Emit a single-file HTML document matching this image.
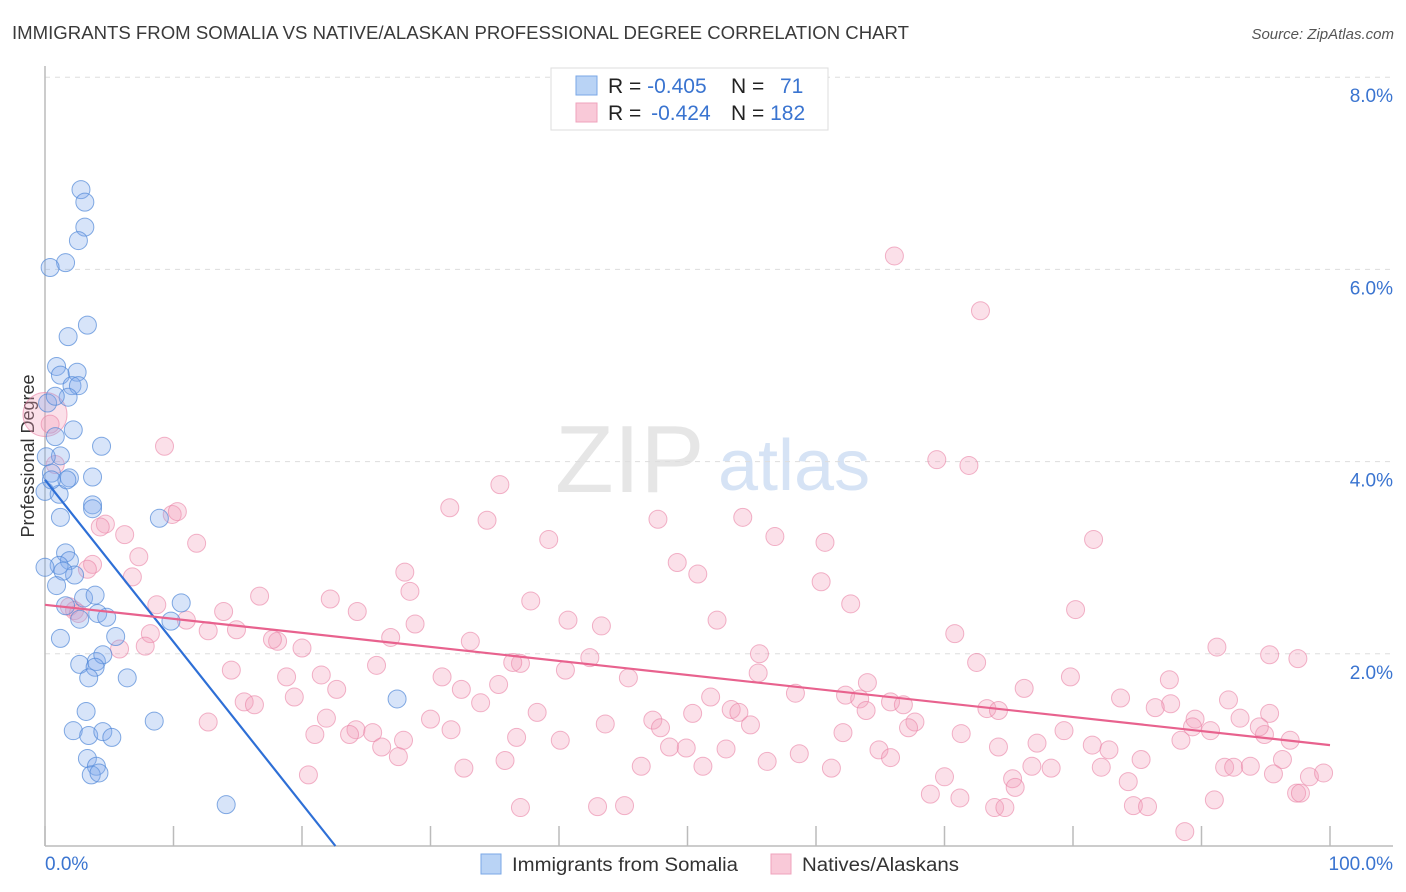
<!DOCTYPE html>
<html><head><meta charset="utf-8"><style>
body{margin:0;background:#fff;font-family:"Liberation Sans",sans-serif;}
#wrap{position:relative;width:1406px;height:892px;overflow:hidden;}
svg text{font-family:"Liberation Sans",sans-serif;}
</style></head><body>
<div id="wrap">
<svg id="chart" width="1406" height="892">
<text x="12" y="39" font-size="18" fill="#3a3a3a" textLength="897" lengthAdjust="spacingAndGlyphs">IMMIGRANTS FROM SOMALIA VS NATIVE/ALASKAN PROFESSIONAL DEGREE CORRELATION CHART</text>
<text x="1394" y="39" font-size="15" fill="#555" font-style="italic" text-anchor="end">Source: ZipAtlas.com</text>
<text x="555" y="492" font-size="96" fill="#e6e6e6" font-family="Liberation Serif">ZIP</text>
<text x="718" y="490" font-size="72" fill="#d6e3f5">atlas</text>
<text transform="translate(34,456) rotate(-90)" font-size="18" fill="#333" text-anchor="middle">Professional Degree</text>
<g id="grid"></g><g id="pinkPts"></g><g id="bluePts"></g><g id="lines"></g>
<g>
<rect x="551" y="68" width="277" height="62" fill="#fff" stroke="#ddd"/>
<rect x="576" y="76" width="21" height="19" fill="#b9d3f5" stroke="#7aa7e6"/>
<rect x="576" y="103" width="21" height="19" fill="#f9c9d8" stroke="#efa3bc"/>
<text x="608" y="93" font-size="21" fill="#222">R = <tspan fill="#3a74d0">-0.405</tspan></text>
<text x="731" y="93" font-size="21" fill="#222">N = <tspan fill="#3a74d0" x="780">71</tspan></text>
<text x="608" y="120" font-size="21" fill="#222">R = <tspan fill="#3a74d0" dx="4">-0.424</tspan></text>
<text x="731" y="120" font-size="21" fill="#222">N = <tspan fill="#3a74d0">182</tspan></text>
</g>
<g>
<rect x="481" y="854" width="20" height="20" fill="#b9d3f5" stroke="#7aa7e6"/>
<text x="512" y="871" font-size="19" fill="#333" textLength="226" lengthAdjust="spacingAndGlyphs">Immigrants from Somalia</text>
<rect x="771" y="854" width="20" height="20" fill="#f9c9d8" stroke="#efa3bc"/>
<text x="802" y="871" font-size="19" fill="#333" textLength="157" lengthAdjust="spacingAndGlyphs">Natives/Alaskans</text>
</g>
<text x="45" y="870" font-size="19" fill="#3a74d0">0.0%</text>
<text x="1393" y="870" font-size="19" fill="#3a74d0" text-anchor="end">100.0%</text>
</svg></div>
<script>
const yTicks=[2,4,6,8];
const yTickLabels=["2.0%","4.0%","6.0%","8.0%"];
const xTicks=[0,10,20,30,40,50,60,70,80,90,100];
const blueX=[2.8,3.1,3.1,2.6,1.6,0.4,3.3,1.8,0.9,1.2,2.5,2.1,2.6,1.8,0.2,0.8,2.2,0.8,1.2,0.1,0.5,1.9,3.7,4.4,0,1.2,3.7,3.7,8.9,1.6,1.9,1.1,2.3,1.4,0.9,3.0,3.9,1.6,2.7,4.1,4.8,10.6,9.8,1.2,5.5,2.7,4.0,4.5,3.9,3.4,6.4,3.2,8.5,2.2,3.4,4.5,5.2,3.3,4.0,3.6,4.2,14.1,27.4,1.1,0,1.7,0.5];
const blueY=[6.83,6.70,6.44,6.30,6.07,6.02,5.42,5.30,4.99,4.90,4.93,4.79,4.79,4.67,4.61,4.68,4.33,4.26,4.06,4.05,3.88,3.83,3.84,4.16,3.69,3.42,3.55,3.51,3.41,3.05,2.97,2.92,2.82,2.86,2.71,2.58,2.61,2.50,2.36,2.42,2.38,2.53,2.34,2.16,2.18,1.89,1.92,1.99,1.86,1.75,1.75,1.40,1.30,1.20,1.15,1.19,1.13,0.91,0.83,0.74,0.76,0.43,1.53,3.66,2.90,3.81,3.81];
const pinkX=[0,0.8,0.4,9.3,66.1,72.8,69.4,71.9,35.4,31.5,34.4,9.9,10.3,4.7,4.3,6.2,11.8,7.3,47.7,54.3,39.2,56.8,60.7,81.6,49.2,50.8,60.4,28.0,3.7,3.3,6.8,16.7,22.2,28.4,37.8,62.7,80.2,8.7,1.9,2.3,2.6,13.9,24.3,11.0,14.9,40.7,43.3,52.3,8.2,12.7,28.8,33.1,26.9,7.8,5.8,18.1,20.0,17.7,70.8,91.2,97.5,95.3,55.6,42.4,37.0,36.4,25.8,72.5,14.5,18.8,21.5,30.9,40.5,45.4,55.5,79.8,87.5,35.3,64.0,22.7,32.4,76.2,83.7,87.6,92.1,15.5,16.3,19.4,33.9,51.8,58.4,62.3,63.4,65.8,66.8,86.4,93.0,95.3,53.4,54.0,63.9,73.3,74.2,12.7,21.9,24.2,23.7,25.5,30.0,38.3,43.6,47.3,50.4,54.9,67.7,89.5,89.3,90.7,94.9,96.9,21.0,26.2,27.9,47.9,62.1,67.2,71.3,79.3,81.5,88.4,94.5,31.6,36.7,40.1,48.6,49.9,53.0,58.7,64.9,74.2,77.2,82.8,27.5,35.8,46.4,51.2,56.2,61.2,65.8,75.3,76.8,78.3,82.2,85.3,91.8,92.5,93.8,96.3,20.5,32.6,70.0,84.3,95.6,98.4,99.5,75.5,68.9,97.4,97.7,91.0,71.2,84.7,85.8,73.9,74.7,43.0,45.1,37.0,88.7];
const pinkY=[4.49,3.97,4.39,4.16,6.14,5.57,4.02,3.96,3.76,3.52,3.39,3.45,3.48,3.35,3.32,3.24,3.15,3.01,3.40,3.42,3.19,3.22,3.16,3.19,2.95,2.83,2.75,2.85,2.93,2.88,2.80,2.60,2.57,2.65,2.55,2.52,2.46,2.51,2.49,2.45,2.42,2.44,2.44,2.35,2.25,2.35,2.29,2.35,2.21,2.24,2.31,2.13,2.17,2.08,2.05,2.13,2.06,2.15,2.21,2.07,1.95,1.99,2.00,1.96,1.90,1.91,1.88,1.91,1.83,1.76,1.78,1.76,1.83,1.75,1.80,1.76,1.73,1.68,1.70,1.63,1.63,1.64,1.54,1.48,1.52,1.50,1.47,1.55,1.49,1.55,1.59,1.57,1.53,1.50,1.47,1.44,1.33,1.38,1.42,1.39,1.41,1.43,1.41,1.29,1.33,1.21,1.16,1.18,1.32,1.39,1.27,1.31,1.38,1.26,1.29,1.32,1.24,1.20,1.16,1.10,1.16,1.03,1.10,1.23,1.18,1.23,1.17,1.20,1.05,1.10,1.24,1.21,1.13,1.10,1.03,1.02,1.01,0.96,1.00,1.03,1.07,1.00,0.93,0.89,0.83,0.83,0.88,0.81,0.92,0.70,0.83,0.81,0.82,0.90,0.82,0.82,0.83,0.90,0.74,0.81,0.72,0.67,0.75,0.72,0.76,0.61,0.54,0.55,0.55,0.48,0.50,0.42,0.41,0.40,0.40,0.41,0.42,0.40,0.15];
const blueTrend=[[0,3.81],[22.6,0]];
const pinkTrend=[[0,2.51],[100,1.05]];

const X0=45,X1=1330,Y0=846,PXY=96.1;
const sx=v=>X0+(X1-X0)*v/100;
const sy=v=>Y0-v*PXY;
const NS="http://www.w3.org/2000/svg";
function mk(tag,attrs,parent){const e=document.createElementNS(NS,tag);for(const k in attrs)e.setAttribute(k,attrs[k]);parent.appendChild(e);return e;}
const grid=document.getElementById('grid');
yTicks.forEach((t,i)=>{
  const l=mk('line',{x1:45,x2:1393,y1:sy(t),y2:sy(t),stroke:'#ddd','stroke-dasharray':'5,5'},grid);
  
  
  const tx=mk('text',{x:1393,y:sy(t)+25,'font-size':19,fill:'#3a74d0','text-anchor':'end'},grid);
  tx.textContent=yTickLabels[i];
  
  
});
const ya=mk('line',{x1:45,x2:45,y1:66,y2:846,stroke:'#bbb','stroke-width':1.5},grid);


const xa=mk('line',{x1:45,x2:1393,y1:846,y2:846,stroke:'#bbb','stroke-width':1.5},grid);


xTicks.forEach(t=>{
  const l=mk('line',{x1:sx(t),x2:sx(t),y1:826,y2:846,stroke:'#bbb','stroke-width':1.5},grid);
  
  
});
const pg=document.getElementById('pinkPts');
pinkX.forEach((x,i)=>{
  const c=mk('circle',{cx:sx(x),cy:sy(pinkY[i]),r:i===0?22:9,fill:'rgba(244,160,188,0.32)',stroke:'rgba(234,130,165,0.6)','stroke-width':1},pg);
  
  
});
const bg=document.getElementById('bluePts');
blueX.forEach((x,i)=>{
  const c=mk('circle',{cx:sx(x),cy:sy(blueY[i]),r:9,fill:'rgba(130,172,235,0.32)',stroke:'rgba(80,135,215,0.7)','stroke-width':1},bg);
  
  
});
const lg=document.getElementById('lines');
const bl=mk('line',{x1:sx(blueTrend[0][0]),y1:sy(blueTrend[0][1]),x2:sx(blueTrend[1][0]),y2:sy(blueTrend[1][1]),stroke:'#2e6fd6','stroke-width':2.2},lg);


const pl=mk('line',{x1:sx(pinkTrend[0][0]),y1:sy(pinkTrend[0][1]),x2:sx(pinkTrend[1][0]),y2:sy(pinkTrend[1][1]),stroke:'#e8628e','stroke-width':2.2},lg);


</script>
</body></html>
